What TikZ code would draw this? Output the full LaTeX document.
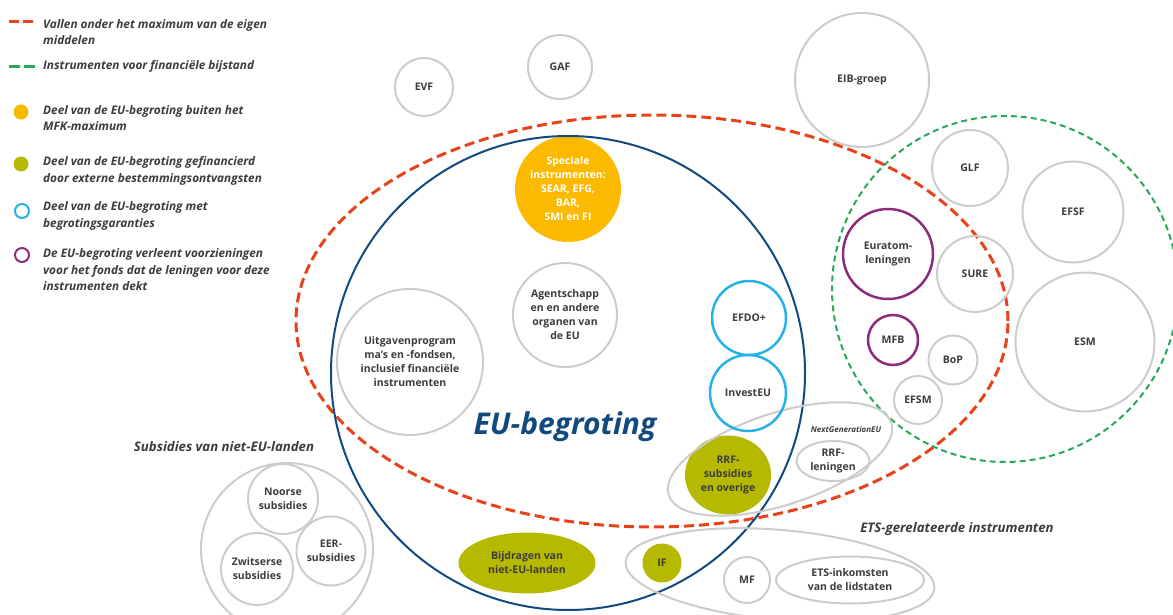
\documentclass[tikz,border=0pt]{standalone}
\usepackage{fontspec}
\setmainfont{Open Sans}
\usepackage{tikz}
\usetikzlibrary{positioning}
\usetikzlibrary{shapes.geometric}

\definecolor{rood}{RGB}{232,66,26}
\definecolor{groen}{RGB}{40,168,90}
\definecolor{donkerblauw}{RGB}{18,74,128}
\definecolor{lichtblauw}{RGB}{38,178,230}
\definecolor{paars}{RGB}{142,44,124}
\definecolor{oranje}{RGB}{251,185,0}
\definecolor{olijf}{RGB}{181,185,0}
\definecolor{grijs}{RGB}{204,204,204}
\definecolor{tekst}{RGB}{60,60,62}

\begin{document}
\begin{tikzpicture}[x=1pt, y=-1pt,
	every node/.style={font=\fontsize{10.5}{14}\selectfont\bfseries, text=tekst, align=center, inner sep=0pt},
	bol/.style={circle, draw=grijs, line width=2pt, minimum size=#1pt},
	ovaal/.style 2 args={ellipse, draw=grijs, line width=2pt, minimum width=#1pt, minimum height=#2pt},
	garantie/.style={circle, draw=lichtblauw, line width=2.5pt, minimum size=#1pt},
	fonds/.style={circle, draw=paars, line width=2.5pt, minimum size=#1pt},
	extern/.style 2 args={ellipse, fill=olijf, minimum width=#1pt, minimum height=#2pt},
	kop/.style={font=\fontsize{13.2}{16}\selectfont\bfseries\itshape},
	legenda/.style={anchor=west, align=left, font=\fontsize{11.8}{16.5}\selectfont\bfseries\itshape},
	maxlijn/.style={draw=rood, line width=3pt, dash pattern=on 10pt off 5pt},
	bijstandlijn/.style={draw=groen, line width=2pt, dash pattern=on 6pt off 4pt}
]
	\useasboundingbox (0,0) rectangle (1173,615);

	\coordinate (rs) at (9,22);
	\coordinate (re) at (35,22);
	\coordinate (gs) at (9,67);
	\coordinate (ge) at (35,67);
	\draw[draw=rood, line width=3pt, dash pattern=on 10pt off 4pt] (rs) -- (re);
	\draw[draw=groen, line width=3pt, dash pattern=on 11pt off 4pt] (gs) -- (ge);
	\node[legenda] (lgmax) at (43,32) {Vallen onder het maximum van de eigen\\middelen};
	\node[legenda] (lgbijstand) at (43,66) {Instrumenten voor financiële bijstand};
	\node[circle, fill=oranje, minimum size=15pt] (dotmfk) at (21,112) {};
	\node[legenda] (lgmfk) at (43,118) {Deel van de EU-begroting buiten het\\MFK-maximum};
	\node[circle, fill=olijf, minimum size=15pt] (dotextern) at (21,164) {};
	\node[legenda] (lgextern) at (43,171) {Deel van de EU-begroting gefinancierd\\door externe bestemmingsontvangsten};
	\node[circle, draw=lichtblauw, line width=2pt, minimum size=14pt] (dotgarantie) at (22,211) {};
	\node[legenda] (lggarantie) at (43,216) {Deel van de EU-begroting met\\begrotingsgaranties};
	\node[circle, draw=paars, line width=2pt, minimum size=14pt] (dotfonds) at (22,255) {};
	\node[legenda] (lgfonds) at (43,270) {De EU-begroting verleent voorzieningen\\voor het fonds dat de leningen voor deze\\instrumenten dekt};

	\node[circle, fill=oranje, minimum size=106pt, text=white] (speciaal) at (568,189) {Speciale\\instrumenten:\\SEAR, EFG,\\BAR,\\SMI en FI};
	\node[extern={86}{79}] (rrfsub) at (728,475) {RRF-\\subsidies\\en overige};
	\node[extern={137}{61}] (bijdragen) at (527,563) {Bijdragen van\\niet-EU-landen};
	\node[extern={39}{39}] (if) at (662,563) {IF};

	\node[ellipse, maxlijn, minimum width=712pt, minimum height=412pt] (maxeigen) at (652,321) {};
	\node[circle, bijstandlijn, minimum size=346pt] (bijstand) at (1005,289) {};
	\node[circle, draw=donkerblauw, line width=2pt, minimum size=474pt] (begroting) at (568,373) {};
	\node[ovaal={234}{92}, rotate=18] (ngeu) at (780,459) {};
	\node[ovaal={310}{90}, rotate=-5] (ets) at (780,575) {};
	\node[bol=172] (subsidies) at (287,549) {};

	\node[bol=58] (evf) at (424,87) {EVF};
	\node[bol=64] (gaf) at (560,67) {GAF};
	\node[bol=134] (eib) at (862,80) {EIB-groep};
	\node[bol=76] (glf) at (970,168) {GLF};
	\node[bol=101] (efsf) at (1073,212) {EFSF};
	\node[fonds=90] (euratom) at (888,254) {Euratom-\\leningen};
	\node[bol=76] (sure) at (975,274) {SURE};
	\node[bol=139] (esm) at (1085,342) {ESM};
	\node[fonds=50] (mfb) at (893,340) {MFB};
	\node[bol=49] (bop) at (953,360) {BoP};
	\node[bol=48] (efsm) at (918,400) {EFSM};

	\node[bol=104] (agentschap) at (565,315) {Agentschapp\\en en andere\\organen van\\de EU};
	\node[bol=146] (uitgaven) at (410,362) {Uitgavenprogram\\ma’s en -fondsen,\\inclusief financiële\\instrumenten};
	\node[garantie=74] (efdo) at (749,318) {EFDO+};
	\node[garantie=76] (investeu) at (748,393) {InvestEU};
	\node[font=\fontsize{30}{31}\selectfont\bfseries\itshape, text=donkerblauw] (titel) at (565,427) {EU-begroting};

	\node[font=\fontsize{8}{10}\selectfont\bfseries\itshape] (ngeulabel) at (846,429) {NextGenerationEU};
	\node[ovaal={73}{40}] (rrflen) at (833,461) {RRF-\\leningen};

	\node[kop] (subsidielabel) at (224,447) {Subsidies van niet-EU-landen};
	\node[bol=70] (noorse) at (283,499) {Noorse\\subsidies};
	\node[bol=69] (eer) at (331,551) {EER-\\subsidies};
	\node[bol=72] (zwitserse) at (257,569) {Zwitserse\\subsidies};

	\node[kop] (etslabel) at (957,529) {ETS-gerelateerde instrumenten};
	\node[bol=46] (mf) at (747,580) {MF};
	\node[ovaal={148}{47}] (etsink) at (850,580) {ETS-inkomsten\\van de lidstaten};
\end{tikzpicture}
\end{document}
